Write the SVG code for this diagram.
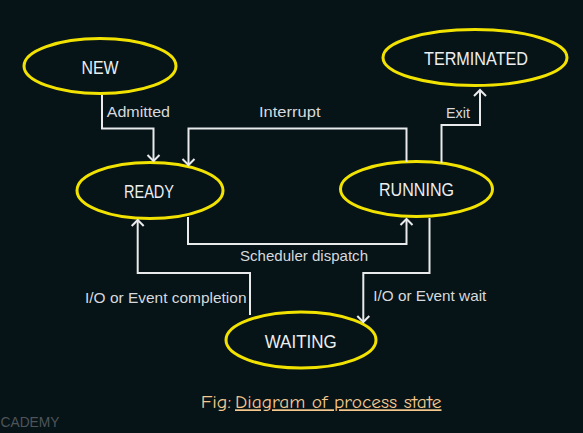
<svg xmlns="http://www.w3.org/2000/svg" width="583" height="433" viewBox="0 0 583 433">
<style>
.bg{fill:#061317}
.node ellipse{fill:#061317;stroke:#f2e200;stroke-width:3}
.node text{font-family:"Liberation Sans",Arial,sans-serif;font-size:18px;fill:#eceef0;text-anchor:middle}
.conn path{fill:none;stroke:#e8eaec;stroke-width:2}
.lbl{font-family:"Liberation Sans",Arial,sans-serif;font-size:14.5px;fill:#d6dadd}
.cap{font-family:"Comic Neue","DejaVu Sans",sans-serif;font-size:17px;fill:#f5c98f}
.wm{font-family:"Liberation Sans",Arial,sans-serif;font-size:15px;fill:#4e5558}
</style>
<defs>
<marker id="arr" viewBox="-8 -8 10 16" markerWidth="10" markerHeight="16" refX="0" refY="0" orient="auto" markerUnits="userSpaceOnUse">
<path d="M-6,-6 L0,0 L-6,6" fill="none" stroke="#e8eaec" stroke-width="2"/>
</marker>
</defs>
<rect class="bg" x="0" y="0" width="583" height="433"/>
<g id="node-new" class="node"><ellipse cx="100" cy="66" rx="76" ry="27.5"/><text x="100" y="74" textLength="37" lengthAdjust="spacingAndGlyphs">NEW</text></g>
<g id="node-terminated" class="node"><ellipse cx="475" cy="57.5" rx="92" ry="28"/><text x="476" y="65" textLength="104" lengthAdjust="spacingAndGlyphs">TERMINATED</text></g>
<g id="node-ready" class="node"><ellipse cx="150" cy="190.5" rx="73" ry="28"/><text x="149" y="198" textLength="50" lengthAdjust="spacingAndGlyphs">READY</text></g>
<g id="node-running" class="node"><ellipse cx="416.5" cy="189" rx="76" ry="27.5"/><text x="416.5" y="196" textLength="75" lengthAdjust="spacingAndGlyphs">RUNNING</text></g>
<g id="node-waiting" class="node"><ellipse cx="301" cy="340" rx="75" ry="28"/><text x="300.7" y="347.5" textLength="72" lengthAdjust="spacingAndGlyphs">WAITING</text></g>
<g id="connectors" class="conn">
<path d="M102,95 V128.5 H153.5 V161" marker-end="url(#arr)"/>
<path d="M406.5,162 V128.5 H188.5 V165" marker-end="url(#arr)"/>
<path d="M441.5,163 V125 H480 V90" marker-end="url(#arr)"/>
<path d="M188,217 V244 H406.5 V219" marker-end="url(#arr)"/>
<path d="M250,315 V273 H137.7 V220" marker-end="url(#arr)"/>
<path d="M429.5,218 V273 H363.3 V322" marker-end="url(#arr)"/>
</g>
<g id="labels">
<text class="lbl" x="106.7" y="117.3" textLength="63.3" lengthAdjust="spacingAndGlyphs">Admitted</text>
<text class="lbl" x="259" y="117.3" textLength="61.5" lengthAdjust="spacingAndGlyphs">Interrupt</text>
<text class="lbl" x="446" y="118.3" textLength="24" lengthAdjust="spacingAndGlyphs">Exit</text>
<text class="lbl" x="240" y="260.7" textLength="128" lengthAdjust="spacingAndGlyphs">Scheduler dispatch</text>
<text class="lbl" x="85" y="302.7" textLength="161.5" lengthAdjust="spacingAndGlyphs">I/O or Event completion</text>
<text class="lbl" x="373.3" y="301" textLength="113" lengthAdjust="spacingAndGlyphs">I/O or Event wait</text>
</g>
<text class="cap" x="200.7" y="408.3" textLength="30.5" lengthAdjust="spacingAndGlyphs">Fig:</text>
<text class="cap" x="235" y="408.3" textLength="206.5" lengthAdjust="spacingAndGlyphs" text-decoration="underline">Diagram of process state</text>
<text class="wm" x="0.5" y="427.3" textLength="59" lengthAdjust="spacingAndGlyphs">CADEMY</text>
</svg>
